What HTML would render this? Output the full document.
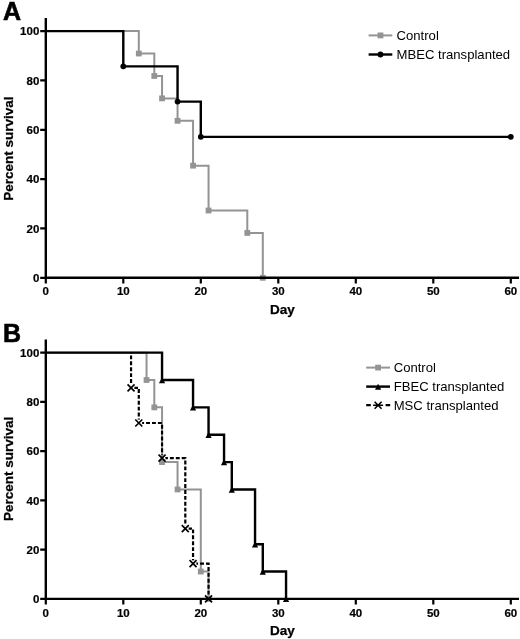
<!DOCTYPE html>
<html><head><meta charset="utf-8"><title>Survival curves</title>
<style>
html,body{margin:0;padding:0;background:#fff;}
svg{display:block;filter:blur(0.3px);}
text{font-family:"Liberation Sans",Arial,sans-serif;fill:#000;}
.tk{font-size:11.5px;font-weight:bold;stroke:#000;stroke-width:0.2px;}
.ttl{font-size:13.5px;font-weight:bold;stroke:#000;stroke-width:0.25px;}
.pl{font-size:25px;font-weight:bold;stroke:#000;stroke-width:0.6px;}
.lg{font-size:13.1px;}
</style></head><body>
<svg width="520" height="639" viewBox="0 0 520 639">
<rect width="520" height="639" fill="#fff"/>
<g>
<path d="M45.8,31.1H138.8V53.53H154.3V75.95H162.05V98.38H177.55V120.81H193.05V165.66H208.55V210.52H247.3V232.95H262.8V277.8" fill="none" stroke="#949494" stroke-width="2.0"/>
<rect x="135.90" y="50.63" width="5.8" height="5.8" fill="#949494"/>
<rect x="151.40" y="73.05" width="5.8" height="5.8" fill="#949494"/>
<rect x="159.15" y="95.48" width="5.8" height="5.8" fill="#949494"/>
<rect x="174.65" y="117.91" width="5.8" height="5.8" fill="#949494"/>
<rect x="190.15" y="162.76" width="5.8" height="5.8" fill="#949494"/>
<rect x="205.65" y="207.62" width="5.8" height="5.8" fill="#949494"/>
<rect x="244.40" y="230.05" width="5.8" height="5.8" fill="#949494"/>
<rect x="259.90" y="274.90" width="5.8" height="5.8" fill="#949494"/>
<path d="M45.8,31.1H123.3V66.34H177.55V101.59H200.8V136.83H510.8" fill="none" stroke="#000" stroke-width="2.4"/>
<circle cx="123.3" cy="66.34" r="2.9" fill="#000"/>
<circle cx="177.55" cy="101.59" r="2.9" fill="#000"/>
<circle cx="200.8" cy="136.83" r="2.9" fill="#000"/>
<circle cx="510.8" cy="136.83" r="2.9" fill="#000"/>
<path d="M45.8,18V277.8M44.599999999999994,277.8H519" fill="none" stroke="#000" stroke-width="2.4"/>
<path d="M40.199999999999996,277.8H45.8M40.199999999999996,228.46H45.8M40.199999999999996,179.12H45.8M40.199999999999996,129.78H45.8M40.199999999999996,80.44H45.8M40.199999999999996,31.1H45.8M45.8,277.8V283.40000000000003M123.3,277.8V283.40000000000003M200.8,277.8V283.40000000000003M278.3,277.8V283.40000000000003M355.8,277.8V283.40000000000003M433.3,277.8V283.40000000000003M510.8,277.8V283.40000000000003" fill="none" stroke="#000" stroke-width="2.2"/>
<text x="39.3" y="281.9" text-anchor="end" class="tk">0</text>
<text x="39.3" y="232.6" text-anchor="end" class="tk">20</text>
<text x="39.3" y="183.2" text-anchor="end" class="tk">40</text>
<text x="39.3" y="133.9" text-anchor="end" class="tk">60</text>
<text x="39.3" y="84.5" text-anchor="end" class="tk">80</text>
<text x="39.3" y="35.2" text-anchor="end" class="tk">100</text>
<text x="45.8" y="295.4" text-anchor="middle" class="tk">0</text>
<text x="123.3" y="295.4" text-anchor="middle" class="tk">10</text>
<text x="200.8" y="295.4" text-anchor="middle" class="tk">20</text>
<text x="278.3" y="295.4" text-anchor="middle" class="tk">30</text>
<text x="355.8" y="295.4" text-anchor="middle" class="tk">40</text>
<text x="433.3" y="295.4" text-anchor="middle" class="tk">50</text>
<text x="510.8" y="295.4" text-anchor="middle" class="tk">60</text>
<text transform="translate(12.7,148.6) rotate(-90)" text-anchor="middle" class="ttl">Percent survival</text>
<text x="282.3" y="313.8" text-anchor="middle" class="ttl">Day</text>
<text x="2.9" y="20.3" class="pl">A</text>
<path d="M368.6,35.4H392.3" fill="none" stroke="#949494" stroke-width="2.0"/>
<rect x="377.55" y="32.50" width="5.8" height="5.8" fill="#949494"/>
<text x="396.6" y="40.0" class="lg">Control</text>
<path d="M368.6,54.5H392.3" fill="none" stroke="#000" stroke-width="2.4"/>
<circle cx="380.45000000000005" cy="54.5" r="2.9" fill="#000"/>
<text x="396.6" y="59.1" class="lg">MBEC transplanted</text>
</g>
<g>
<path d="M45.8,352.65H146.55V380.01H154.3V407.37H162.05V462.09H177.55V489.46H200.8V571.54H208.55V598.9" fill="none" stroke="#949494" stroke-width="2.0"/>
<rect x="143.65" y="377.11" width="5.8" height="5.8" fill="#949494"/>
<rect x="151.40" y="404.47" width="5.8" height="5.8" fill="#949494"/>
<rect x="159.15" y="459.19" width="5.8" height="5.8" fill="#949494"/>
<rect x="174.65" y="486.56" width="5.8" height="5.8" fill="#949494"/>
<rect x="197.90" y="568.64" width="5.8" height="5.8" fill="#949494"/>
<rect x="205.65" y="596.00" width="5.8" height="5.8" fill="#949494"/>
<path d="M45.8,352.65H162.05V380.01H193.05V407.37H208.55V434.73H224.05V462.09H231.8V489.46H255.05V544.18H262.8V571.54H286.05V598.9" fill="none" stroke="#000" stroke-width="2.4"/>
<path d="M162.05,377.21L165.15,383.21H158.95Z" fill="#000"/>
<path d="M193.05,404.57L196.15,410.57H189.95Z" fill="#000"/>
<path d="M208.55,431.93L211.65,437.93H205.45Z" fill="#000"/>
<path d="M224.05,459.29L227.15,465.29H220.95Z" fill="#000"/>
<path d="M231.8,486.66L234.90,492.66H228.70Z" fill="#000"/>
<path d="M255.05,541.38L258.15,547.38H251.95Z" fill="#000"/>
<path d="M262.8,568.74L265.90,574.74H259.70Z" fill="#000"/>
<path d="M286.05,596.10L289.15,602.10H282.95Z" fill="#000"/>
<mask id="mkB" maskUnits="userSpaceOnUse" x="0" y="0" width="520" height="639"><rect width="520" height="639" fill="#fff"/><circle cx="131.05" cy="387.83" r="3.4" fill="#000"/><circle cx="138.8" cy="423.01" r="3.4" fill="#000"/><circle cx="162.05" cy="458.19" r="3.4" fill="#000"/><circle cx="185.3" cy="528.54" r="3.4" fill="#000"/><circle cx="193.05" cy="563.72" r="3.4" fill="#000"/><circle cx="208.55" cy="598.9" r="3.4" fill="#000"/></mask>
<path d="M131.05,352.65H131.05V387.83H138.8V423.01H162.05V458.19H185.3V528.54H193.05V563.72H208.55V598.9" fill="none" stroke="#000" stroke-width="2.2" stroke-dasharray="3.9 2" stroke-dashoffset="3.1" mask="url(#mkB)"/>
<path d="M127.55,384.33L134.55,391.33M127.55,391.33L134.55,384.33" stroke="#000" stroke-width="1.7" fill="none"/>
<path d="M135.30,419.51L142.30,426.51M135.30,426.51L142.30,419.51" stroke="#000" stroke-width="1.7" fill="none"/>
<path d="M158.55,454.69L165.55,461.69M158.55,461.69L165.55,454.69" stroke="#000" stroke-width="1.7" fill="none"/>
<path d="M181.80,525.04L188.80,532.04M181.80,532.04L188.80,525.04" stroke="#000" stroke-width="1.7" fill="none"/>
<path d="M189.55,560.22L196.55,567.22M189.55,567.22L196.55,560.22" stroke="#000" stroke-width="1.7" fill="none"/>
<path d="M205.05,595.40L212.05,602.40M205.05,602.40L212.05,595.40" stroke="#000" stroke-width="1.7" fill="none"/>
<path d="M45.8,339.5V598.9M44.599999999999994,598.9H519" fill="none" stroke="#000" stroke-width="2.4"/>
<path d="M40.199999999999996,598.9H45.8M40.199999999999996,549.65H45.8M40.199999999999996,500.4H45.8M40.199999999999996,451.15H45.8M40.199999999999996,401.9H45.8M40.199999999999996,352.65H45.8M45.8,598.9V604.5M123.3,598.9V604.5M200.8,598.9V604.5M278.3,598.9V604.5M355.8,598.9V604.5M433.3,598.9V604.5M510.8,598.9V604.5" fill="none" stroke="#000" stroke-width="2.2"/>
<text x="39.3" y="603.0" text-anchor="end" class="tk">0</text>
<text x="39.3" y="553.8" text-anchor="end" class="tk">20</text>
<text x="39.3" y="504.5" text-anchor="end" class="tk">40</text>
<text x="39.3" y="455.2" text-anchor="end" class="tk">60</text>
<text x="39.3" y="406.0" text-anchor="end" class="tk">80</text>
<text x="39.3" y="356.8" text-anchor="end" class="tk">100</text>
<text x="45.8" y="616.5" text-anchor="middle" class="tk">0</text>
<text x="123.3" y="616.5" text-anchor="middle" class="tk">10</text>
<text x="200.8" y="616.5" text-anchor="middle" class="tk">20</text>
<text x="278.3" y="616.5" text-anchor="middle" class="tk">30</text>
<text x="355.8" y="616.5" text-anchor="middle" class="tk">40</text>
<text x="433.3" y="616.5" text-anchor="middle" class="tk">50</text>
<text x="510.8" y="616.5" text-anchor="middle" class="tk">60</text>
<text transform="translate(12.7,468.9) rotate(-90)" text-anchor="middle" class="ttl">Percent survival</text>
<text x="282.3" y="634.9" text-anchor="middle" class="ttl">Day</text>
<text x="2.9" y="342.0" class="pl">B</text>
<path d="M366.2,367.6H390" fill="none" stroke="#949494" stroke-width="2.0"/>
<rect x="375.20" y="364.70" width="5.8" height="5.8" fill="#949494"/>
<text x="393.7" y="372.2" class="lg">Control</text>
<path d="M366.2,386.6H390" fill="none" stroke="#000" stroke-width="2.4"/>
<path d="M378.1,383.80L381.20,389.80H375.00Z" fill="#000"/>
<text x="393.7" y="391.2" class="lg">FBEC transplanted</text>
<path d="M366.2,405.2H370.8M385.6,405.2H390.2" fill="none" stroke="#000" stroke-width="2.2"/>
<path d="M374.60,401.70L381.60,408.70M374.60,408.70L381.60,401.70M373.10,405.2H383.10" stroke="#000" stroke-width="1.6" fill="none"/>
<text x="393.7" y="409.8" class="lg">MSC transplanted</text>
</g>
</svg>
</body></html>
